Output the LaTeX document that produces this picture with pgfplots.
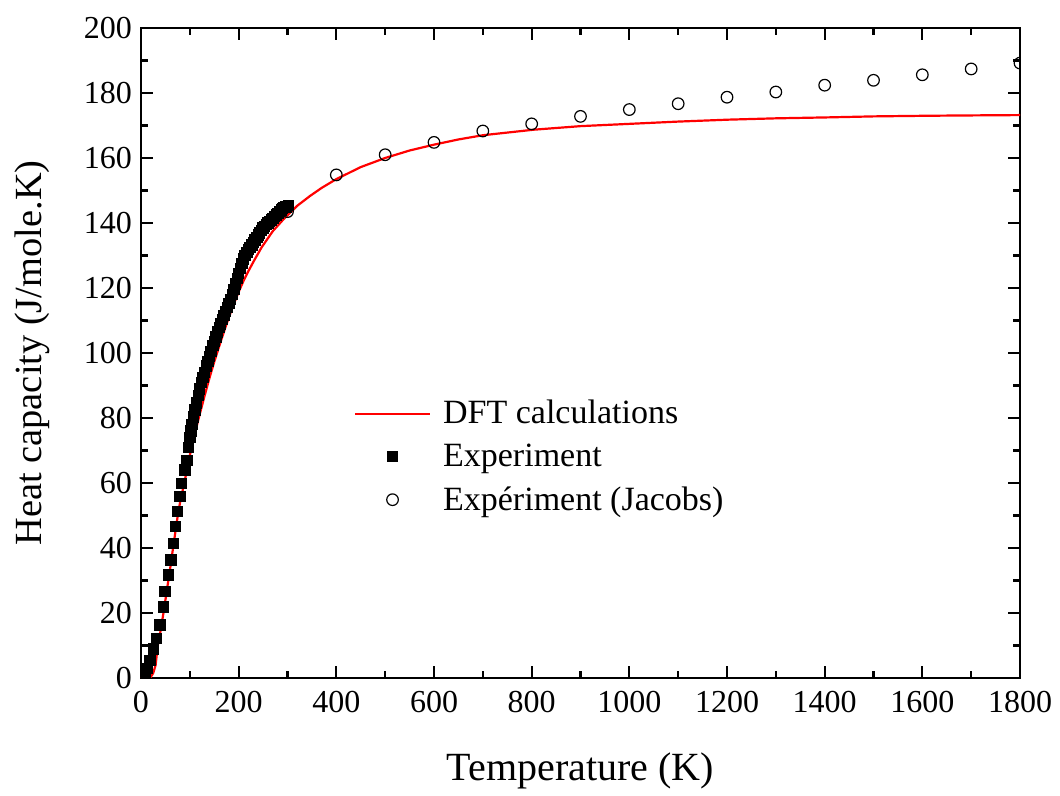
\documentclass[border=0pt]{standalone}
\usepackage{fontspec}
\setmainfont{Liberation Serif}
\usepackage{pgfplots}
\pgfplotsset{compat=1.18}
\pgfplotsset{
  lineleg/.style={legend image code/.code={\draw[##1] (0bp,0bp) -- (37.5bp,0bp); \path (41.5bp,0bp);}},
  markleg/.style={legend image code/.code={\draw[mark repeat=1,mark phase=1,##1] plot coordinates {(18.75bp,0bp)}; \path (0bp,0bp) (41.5bp,0bp);}},
}
\begin{document}
\begin{tikzpicture}
\begin{axis}[
  scale only axis,
  width=439.5bp, height=325bp,
  xmin=0, xmax=1800, ymin=0, ymax=200,
  xtick={0,200,...,1800}, ytick={0,20,...,200},
  minor x tick num=1, minor y tick num=1,
  tick align=inside,
  major tick length=6bp, minor tick length=3.5bp,
  axis line style={line width=1.2bp},
  every tick/.style={black, line width=1.1bp},
  /pgf/number format/assume math mode=true,
  /pgf/number format/1000 sep={},
  tick label style={font=\fontsize{16bp}{18bp}\selectfont},
  xticklabel style={yshift=-3bp},
  yticklabel style={xshift=-1bp},
  xlabel={Temperature (K)},
  ylabel={Heat capacity (J/mole.K)},
  xlabel style={font=\fontsize{20bp}{24bp}\selectfont, at={(axis description cs:0.5,0)}, anchor=north, yshift=-34bp},
  ylabel style={font=\fontsize{19.2bp}{23bp}\selectfont, at={(axis description cs:0,0.5)}, anchor=south, yshift=42bp},
  legend style={draw=none, fill=none, at={(axis description cs:0.235,0.44)}, anchor=north west,
    font=\fontsize{17bp}{20bp}\selectfont, row sep=4.5bp},
  legend cell align=left,
  clip marker paths=true,
]
\addplot[red, line width=1.1bp, lineleg] coordinates {
(0,0) (10,0) (20,0.3) (25,1.5) (30,4) (34,9.6) (40,14.5) (46,20) (50,24) (56,30) (60,34)
(66,40.4) (70,44.5) (76,50.7) (80,54) (90,61) (100,68.5) (110,75) (120,81) (130,86.7)
(140,92.2) (150,97.3) (160,102) (170,106.6) (180,111) (190,115) (200,118.8) (210,122.2)
(220,125.2) (230,128) (247,132.5) (270,137.5) (291,141) (320,145.3) (346,148.3) (370,150.8)
(400,153.5) (450,157.2) (500,160) (550,162.3) (600,164.1) (650,165.7) (700,167) (804,168.7)
(900,169.8) (1000,170.5) (1100,171.2) (1204,171.8) (1300,172.2) (1409,172.5) (1500,172.8)
(1613,173) (1700,173.1) (1800,173.2)
};
\addlegendentry{DFT calculations}
\addplot[only marks, mark=square*, mark size=2.6bp, black, markleg] coordinates {
(2,0.2) (5,0.5) (8,1.4) (12,3) (18,5.5) (25,9) (32,12.2) (39,16.3) (46,21.9) (49,26.6)
(56,31.7) (61,36.3) (66,41.4) (71,46.6) (75,51.2) (80,55.8) (83,59.9) (90,64) (94,67)
(97,71) (100,74) (102,76) (104,78) (107,80.3) (110,82.5) (113,84.6) (117,87) (120,89)
(124,91) (127,92.5) (130,94) (134,96) (137,97.5) (140,99) (143,100.5) (147,102.3)
(150,103.5) (153,105) (157,106.5) (160,107.8) (163,109) (167,110.3) (170,111.5) (173,112.8)
(177,114) (180,115.3) (183,116.5) (187,118) (190,119.5) (193,121.3) (197,123) (200,124.5)
(203,126) (207,127.6) (210,129) (213,130) (217,131) (220,131.8) (223,132.5) (227,133.3)
(230,134) (233,134.8) (237,135.5) (240,136.3) (243,137) (247,137.8) (250,138.5) (253,139)
(257,139.5) (260,140) (263,140.5) (267,141) (270,141.5) (273,142) (277,142.5) (280,143)
(283,143.5) (287,144) (290,144.5) (293,144.8) (297,145) (302,145.5)
};
\addlegendentry{Experiment}
\addplot[only marks, mark=o, mark size=2.9bp, black, mark options={line width=0.6bp, fill=white}, markleg] coordinates {
(300,143.5) (400,154.8) (500,161) (600,164.8) (700,168.3) (800,170.5) (900,172.8) (1000,174.9)
(1100,176.7) (1200,178.7) (1300,180.3) (1400,182.4) (1500,183.9) (1600,185.6) (1700,187.4) (1800,189.2)
};
\addlegendentry{Expériment (Jacobs)}
\end{axis}
\path[use as bounding box] (-70.5bp,-58bp) rectangle (459.5bp,339bp);
\end{tikzpicture}
\end{document}
